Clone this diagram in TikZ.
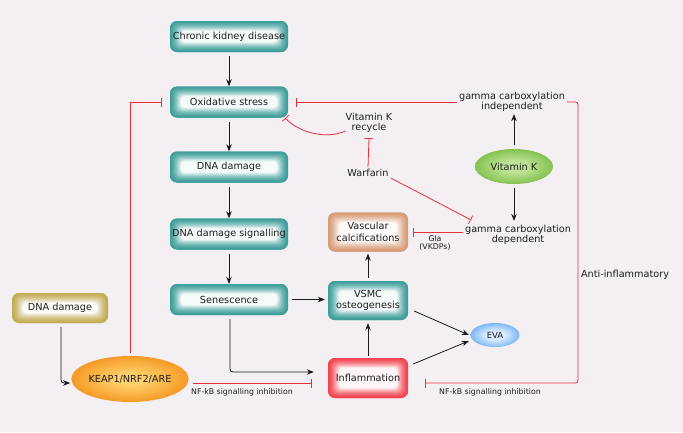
\documentclass[tikz,border=0pt]{standalone}
\usepackage{fontspec}
\setmainfont{DejaVu Sans}
\usetikzlibrary{arrows.meta,shapes.geometric,calc}
\definecolor{bgc}{HTML}{F3EFF3}
\definecolor{txt}{HTML}{1E1E1E}
\definecolor{tealc}{HTML}{3E9E9A}
\definecolor{yelc}{HTML}{C2AD55}
\definecolor{tanc}{HTML}{D69C76}
\definecolor{redc}{HTML}{F2444F}
\definecolor{redl}{HTML}{E8303A}
\definecolor{arrc}{HTML}{1A1A1A}
\definecolor{gin}{HTML}{BFE396}
\definecolor{gout}{HTML}{72B83C}
\definecolor{oin}{HTML}{FFD06A}
\definecolor{oout}{HTML}{F28C14}
\definecolor{bin}{HTML}{D8EBFF}
\definecolor{bout}{HTML}{5EA8F0}
\pgfdeclareradialshading{vkshade}{\pgfpoint{0bp}{0bp}}{color(0bp)=(gin); color(8bp)=(gin); color(30bp)=(gout); color(75bp)=(gout)}
\pgfdeclareradialshading{keapshade}{\pgfpoint{0bp}{0bp}}{color(0bp)=(oin); color(6bp)=(oin); color(30bp)=(oout); color(75bp)=(oout)}
\pgfdeclareradialshading{evashade}{\pgfpoint{0bp}{0bp}}{color(0bp)=(bin); color(10bp)=(bin); color(30bp)=(bout); color(75bp)=(bout)}
\newcommand\glowfill[1]{%
  \foreach \i in {0,...,22}{%
    \pgfmathtruncatemacro\pc{95*(\i/22)^1.5}%
    \pgfmathsetmacro\rc{max(3.5,7-0.15*\i)}%
    \fill[fill=white!\pc!#1, rounded corners=\rc pt]
      ([shift={(\i*0.5pt,-\i*0.45pt)}]path picture bounding box.north west) rectangle
      ([shift={(-\i*0.5pt,\i*0.45pt)}]path picture bounding box.south east);
  }}
\begin{document}
\begin{tikzpicture}[x=1pt,y=-1pt,
  box/.style={rounded corners=7pt, minimum width=118pt, minimum height=31pt, inner sep=1pt,
    font=\fontsize{9.7}{11.5}\selectfont, text=txt, align=center, fill=#1,
    path picture={\glowfill{#1}}},
  box/.default=tealc,
  ell/.style={ellipse, inner sep=0pt, font=\fontsize{9.7}{11.5}\selectfont, text=txt},
  lbl/.style={inner sep=2pt, font=\fontsize{9.7}{10.5}\selectfont, text=txt, align=center},
  sm/.style={inner sep=2pt, font=\fontsize{7.8}{8.6}\selectfont, text=txt, align=center},
  arr/.style={draw=arrc, line width=0.8pt, -{Stealth[length=7pt,width=5.5pt]}},
  inh/.style={draw=redl, line width=0.8pt, -{Bar[width=9pt]}}]
\useasboundingbox[fill=bgc] (0,0) rectangle (683,432);

% nodes
\node[box] (ckd) at (229,36.5) {Chronic kidney disease};
\node[box] (ox) at (229,102) {Oxidative stress};
\node[box] (dna) at (229,167) {DNA damage};
\node[box] (dnas) at (229,234) {DNA damage signalling};
\node[box] (sen) at (229,299.5) {Senescence};
\node[box=yelc, minimum width=96pt, minimum height=30pt] (dnay) at (60,308) {DNA damage};
\node[ell, shading=keapshade, minimum width=100pt, minimum height=46pt] (keap) at (130,379) {KEAP1/NRF2/ARE};
\node[box=tanc, minimum width=80pt, minimum height=39pt] (vasc) at (368,232) {Vascular\\calcifications};
\node[box, minimum width=80pt, minimum height=39pt] (vsmc) at (368,300.5) {VSMC\\osteogenesis};
\node[box=redc, minimum width=80pt, minimum height=40pt] (infl) at (368,378) {Inflammation};
\node[ell, shading=evashade, minimum width=49pt, minimum height=24pt, font=\fontsize{8.5}{10}\selectfont] (eva) at (495,335) {EVA};
\node[ell, shading=vkshade, minimum width=78pt, minimum height=35pt] (vitk) at (514,166.5) {Vitamin K};

\node[lbl] (gci) at (512,102) {gamma carboxylation\\independent};
\node[lbl] (gcd) at (518,235) {gamma carboxylation\\dependent};
\node[lbl] (vkr) at (369,123) {Vitamin K\\recycle};
\node[lbl] (warf) at (368,173) {Warfarin};
\node[sm] (gla) at (435,243) {Gla\\(VKDPs)};
\node[lbl] (anti) at (625,275) {Anti-inflammatory};
\node[sm] (nf1) at (242,392) {NF-kB signalling inhibition};
\node[sm] (nf2) at (490,392) {NF-kB signalling inhibition};

% black arrows
\draw[arr, shorten <=4pt] (ckd) -- (ox);
\draw[arr, shorten <=4pt] (ox) -- (dna);
\draw[arr, shorten <=4pt] (dna) -- (dnas);
\draw[arr, shorten <=4pt] (dnas) -- (sen);
\draw[arr, shorten <=4pt, shorten >=3pt] (sen.east) -- (sen.east -| vsmc.west);
\draw[arr, shorten <=3pt, shorten >=2pt] (vsmc) -- (vasc);
\draw[arr, shorten <=2pt, shorten >=3pt] (infl) -- (vsmc);
\draw[arr] ([shift={(6,10.5)}]vsmc.east) -- ([shift={(-1.5,0)}]eva.west);
\draw[arr] ([shift={(5,-14)}]infl.east) -- ([shift={(-1.5,6)}]eva.west);
\draw[arr, rounded corners=3pt] ([shift={(1,4)}]sen.south) |- ([shift={(-14,-6)}]infl.west);
\draw[arr, rounded corners=3pt] ([shift={(1,4)}]dnay.south) |- ([shift={(-1,4)}]keap.west);
\draw[arr, shorten <=4pt] (vitk.north) -- (vitk.north |- gci.south);
\draw[arr, shorten <=4pt, shorten >=2pt] (vitk.south) -- (vitk.south |- gcd.north);

% inhibitions
\draw[inh] ([shift={(4,4)}]keap.east) -- ([shift={(-16,5)}]infl.west);
\draw[inh] ([shift={(0,-3)}]keap.north) |- ([shift={(-8,0)}]ox.west);
\draw[inh] (gci.west) -- ([shift={(8,0)}]ox.east);
\coordinate (rc) at (578,383);
\draw[inh, rounded corners=2.5pt] (gci.east) -| (rc) -- ([shift={(17,5)}]infl.east);
\draw[inh] ([shift={(2,8)}]vkr.west) .. controls +(-20,9) and +(13,14) .. ([shift={(-3,16)}]ox.east);
\draw[inh] (warf.north) -- ([shift={(0,3)}]vkr.south);
\draw[inh] ([shift={(0,5)}]warf.east) -- ([shift={(8,-3)}]gcd.north west);
\draw[inh] ([shift={(0,-3)}]gcd.west) -- ([shift={(5,0)}]vasc.east);
\end{tikzpicture}
\end{document}
